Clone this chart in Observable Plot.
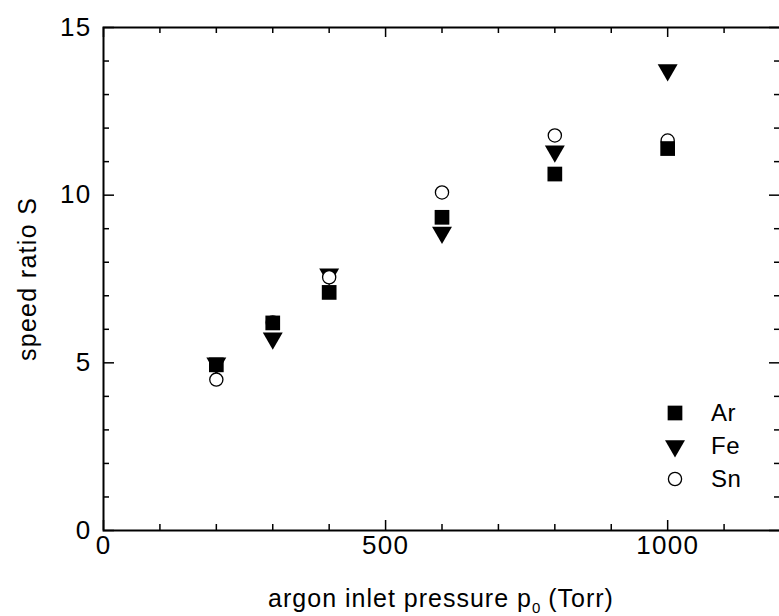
<!DOCTYPE html>
<html>
<head>
<meta charset="utf-8">
<script src="https://cdn.jsdelivr.net/npm/d3@7"></script>
<script src="https://cdn.jsdelivr.net/npm/@observablehq/plot@0.6"></script>
<style>
  html, body { margin: 0; padding: 0; background: #fff; }
  #wrap { position: relative; width: 779px; height: 616px; overflow: hidden; font-family: "Liberation Sans", Arial, sans-serif; color: #000; }
  #wrap svg text { letter-spacing: 1.3px; }
  #xlabel { position: absolute; left: 103px; width: 676px; top: 583px; text-align: center; font-size: 25px; letter-spacing: 1px; line-height: 30px; white-space: nowrap; }
  #xlabel sub { font-size: 15px; vertical-align: -6px; line-height: 0; letter-spacing: 0; }
  #legend { position: absolute; left: 660px; top: 400px; font-size: 24px; }
  .li { position: absolute; left: 0; height: 26px; white-space: nowrap; }
  .li svg { position: absolute; left: 0; top: 0; }
  .li span { position: absolute; left: 51px; top: -2px; line-height: 30px; letter-spacing: 0.5px; }
</style>
</head>
<body>
<div id="wrap"></div>
<script>
// ---- data ----
const pressure = [200, 300, 400, 600, 800, 1000];
const arS = [4.94, 6.19, 7.10, 9.34, 10.63, 11.39];
const feS = [4.99, 5.73, 7.64, 8.89, 11.31, 13.73];
const snS = [4.50, 6.20, 7.55, 10.08, 11.78, 11.63];
const seriesNames = ["Ar", "Fe", "Sn"];
const xMajor = [0, 500, 1000];
const xMinor = [100, 200, 300, 400, 600, 700, 800, 900, 1100];
const yMajor = [0, 5, 10, 15];
const yMinor = [1, 2, 3, 4, 6, 7, 8, 9, 11, 12, 13, 14];

const rows = (vals, name) => pressure.map((p, i) => ({p, s: vals[i], name}));
const ar = rows(arS, "Ar"), fe = rows(feS, "Fe"), sn = rows(snS, "Sn");

const W = 781, H = 575, mL = 103, mR = 1, mT = 27, mB = 45;
const pw = W - mL - mR, ph = H - mT - mB;
const font = "Liberation Sans, Arial, sans-serif";

const chart = Plot.plot({
  width: W, height: H,
  marginLeft: mL, marginRight: mR, marginTop: mT, marginBottom: mB,
  style: {fontFamily: font, fontSize: "26px", color: "#000", background: "#fff", overflow: "visible", maxWidth: "none"},
  x: {domain: [0, 1200]},
  y: {domain: [0, 15]},
  marks: [
    Plot.frame({stroke: "#000", strokeWidth: 2}),
    // ticks (inward)
    Plot.ruleX(xMajor, {x: d => d, insetTop: ph - 10, stroke: "#000", strokeWidth: 1.5}),
    Plot.ruleX(xMinor, {x: d => d, insetTop: ph - 6, stroke: "#000", strokeWidth: 1.5}),
    Plot.ruleX(xMajor, {x: d => d, insetBottom: ph - 10, stroke: "#000", strokeWidth: 1.5}),
    Plot.ruleX(xMinor, {x: d => d, insetBottom: ph - 6, stroke: "#000", strokeWidth: 1.5}),
    Plot.ruleY(yMajor, {y: d => d, insetRight: pw - 11, stroke: "#000", strokeWidth: 1.5}),
    Plot.ruleY(yMinor, {y: d => d, insetRight: pw - 6, stroke: "#000", strokeWidth: 1.5}),
    Plot.ruleY(yMajor, {y: d => d, insetLeft: pw - 11, stroke: "#000", strokeWidth: 1.5}),
    Plot.ruleY(yMinor, {y: d => d, insetLeft: pw - 6, stroke: "#000", strokeWidth: 1.5}),
    Plot.axisX({ticks: xMajor, tickFormat: d => String(d), tickSize: 0, tickPadding: 5, label: null, fontSize: 26}),
    Plot.axisY({ticks: yMajor, tickFormat: d => String(d), tickSize: 0, tickPadding: 12, label: null, fontSize: 26}),
    Plot.text(["speed ratio S"], {frameAnchor: "left", textAnchor: "middle", dx: -76, rotate: -90, fontSize: 25, fill: "#000"}),
    // data
    Plot.dot(fe, {x: "p", y: "s", symbol: "triangle", rotate: 180, r: 7.4, fill: "#000", stroke: "none"}),
    Plot.dot(sn, {x: "p", y: "s", symbol: "circle", r: 6.6, fill: "#fff", stroke: "#000", strokeWidth: 1.3}),
    Plot.dot(ar, {x: "p", y: "s", symbol: "square", r: 8.3, fill: "#000", stroke: "none"})
  ]
});

const wrap = document.getElementById("wrap");
wrap.appendChild(chart);

const xl = document.createElement("div");
xl.id = "xlabel";
xl.innerHTML = "argon inlet pressure p<sub>0</sub> (Torr)";
wrap.appendChild(xl);

// legend
const legend = document.createElement("div");
legend.id = "legend";
const legendSymbols = [
  {path: d3.symbol(d3.symbolSquare, Math.PI * 8.3 * 8.3)(), rot: 0, fill: "#000", stroke: "none"},
  {path: d3.symbol(d3.symbolTriangle, Math.PI * 7.4 * 7.4)(), rot: 180, fill: "#000", stroke: "none"},
  {path: d3.symbol(d3.symbolCircle, Math.PI * 6.6 * 6.6)(), rot: 0, fill: "#fff", stroke: "#000"}
];
seriesNames.forEach((name, i) => {
  const li = document.createElement("div");
  li.className = "li";
  li.style.top = (i * 33) + "px";
  const s = legendSymbols[i];
  li.innerHTML = `<svg width="30" height="26" viewBox="-15 -13 30 26"><path d="${s.path}" transform="rotate(${s.rot})" fill="${s.fill}" stroke="${s.stroke}" stroke-width="1.3"/></svg><span>${name}</span>`;
  legend.appendChild(li);
});
wrap.appendChild(legend);
</script>
</body>
</html>
